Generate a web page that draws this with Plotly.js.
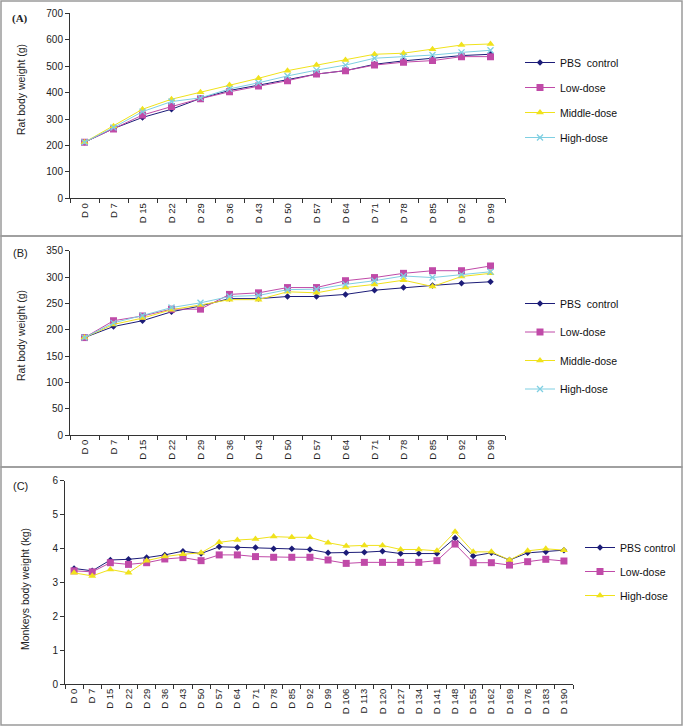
<!DOCTYPE html>
<html>
<head>
<meta charset="utf-8">
<script src="https://cdn.plot.ly/plotly-3.0.1.min.js"></script>
<style>
  body { margin: 0; background: #fff; }
  #plotArea { width: 684px; height: 727px; }
</style>
</head>
<body>
<div id="plotArea"></div>
<script>
// rat study days (panels A and B)
var ratDays = ["D 0", "D 7", "D 15", "D 22", "D 29", "D 36", "D 43", "D 50", "D 57", "D 64", "D 71", "D 78", "D 85", "D 92", "D 99"];

// panel A
var pbsA    = [212, 264, 306, 337, 378, 408, 428, 448, 470, 483, 507, 520, 530, 540, 545];
var lowA    = [212, 262, 315, 347, 377, 403, 425, 445, 470, 483, 504, 515, 521, 536, 536];
var middleA = [212, 273, 337, 375, 401, 429, 454, 483, 504, 523, 545, 549, 564, 580, 584];
var highA   = [212, 268, 328, 366, 380, 414, 437, 463, 485, 504, 530, 536, 542, 552, 560];

// panel B
var pbsB    = [185, 206, 217, 234, 245, 259, 259, 263, 263, 267, 275, 280, 284, 288, 291];
var lowB    = [185, 217, 226, 239, 239, 267, 270, 280, 280, 293, 299, 307, 312, 312, 321];
var middleB = [185, 210, 222, 238, 247, 257, 257, 272, 270, 280, 286, 294, 282, 301, 307];
var highB   = [185, 213, 227, 242, 251, 263, 265, 276, 277, 286, 293, 302, 299, 305, 310];

// monkey study days (panel C)
var monkeyDays = ["D 0", "D 7", "D 15", "D 22", "D 29", "D 36", "D 43", "D 50", "D 57", "D 64", "D 71", "D 78", "D 85", "D 92",
    "D 99", "D 106", "D 113", "D 120", "D 127", "D 134", "D 141", "D 148", "D 155", "D 162", "D 169", "D 176", "D 183", "D 190"];
var pbsC  = [3.41, 3.34, 3.66, 3.68, 3.73, 3.81, 3.92, 3.85, 4.05, 4.03, 4.03, 3.99, 3.99, 3.97,
    3.87, 3.87, 3.89, 3.92, 3.85, 3.85, 3.85, 4.31, 3.78, 3.87, 3.66, 3.87, 3.90, 3.95];
var lowC  = [3.34, 3.31, 3.58, 3.53, 3.58, 3.69, 3.73, 3.64, 3.81, 3.81, 3.76, 3.74, 3.74, 3.74,
    3.66, 3.56, 3.59, 3.59, 3.59, 3.59, 3.64, 4.13, 3.58, 3.58, 3.51, 3.61, 3.68, 3.63];
var highC = [3.28, 3.19, 3.38, 3.28, 3.64, 3.76, 3.83, 3.87, 4.18, 4.25, 4.28, 4.35, 4.33, 4.33,
    4.17, 4.07, 4.09, 4.09, 3.97, 3.97, 3.93, 4.49, 3.90, 3.90, 3.66, 3.93, 3.99, 3.95];

var navy = "#1c1c78";
var pink = "#c04aa8";
var yellow = "#f0e21c";
var cyan = "#7fcfe2";

var W = 684, H = 727;
function px(x) { return x / W; }
function py(y) { return 1 - y / H; }

function series(name, x, y, color, symbol, size, n, legendName) {
    var t = {
        x: x, y: y, name: name, type: "scatter", mode: "lines+markers",
        line: {color: color, width: 1},
        marker: {color: color, symbol: symbol, size: size},
        xaxis: n == 1 ? "x" : "x" + n,
        yaxis: n == 1 ? "y" : "y" + n,
        legend: legendName,
        legendgroup: legendName + name
    };
    if (symbol == "x-thin") {
        t.marker.line = {color: color, width: 1.3};
    }
    return t;
}

var data = [
    series("PBS  control", ratDays, pbsA, navy, "diamond", 5, 1, "legend"),
    series("Low-dose", ratDays, lowA, pink, "square", 7, 1, "legend"),
    series("Middle-dose", ratDays, middleA, yellow, "triangle-up", 7, 1, "legend"),
    series("High-dose", ratDays, highA, cyan, "x-thin", 6, 1, "legend"),

    series("PBS  control", ratDays, pbsB, navy, "diamond", 5, 2, "legend2"),
    series("Low-dose", ratDays, lowB, pink, "square", 7, 2, "legend2"),
    series("Middle-dose", ratDays, middleB, yellow, "triangle-up", 7, 2, "legend2"),
    series("High-dose", ratDays, highB, cyan, "x-thin", 6, 2, "legend2"),

    series("PBS control", monkeyDays, pbsC, navy, "diamond", 5, 3, "legend3"),
    series("Low-dose", monkeyDays, lowC, pink, "square", 7, 3, "legend3"),
    series("High-dose", monkeyDays, highC, yellow, "triangle-up", 7, 3, "legend3")
];

var tickFont = {family: "Liberation Sans, Arial", size: 10, color: "#222"};

function xAxis(domain, yanchor, n) {
    return {
        domain: domain, anchor: yanchor, type: "category",
        range: [-0.5, n - 0.5],
        showline: true, linecolor: "#333", linewidth: 1,
        ticks: "outside", tickson: "boundaries", ticklen: 4, tickcolor: "#333",
        tickangle: -90, tickfont: {family: "Liberation Sans, Arial", size: 9.5, color: "#222"},
        showgrid: false, zeroline: false, fixedrange: true
    };
}
function yAxis(domain, xanchor, max, step) {
    return {
        domain: domain, anchor: xanchor,
        range: [0, max], dtick: step, tick0: 0,
        showline: true, linecolor: "#333", linewidth: 1,
        ticks: "outside", ticklen: 4, tickcolor: "#333",
        tickfont: tickFont,
        showgrid: false, zeroline: false, fixedrange: true
    };
}

var legendFont = {family: "Liberation Sans, Arial", size: 10.5, color: "#111"};

function label(text, x, y, angle, font) {
    return {text: text, xref: "paper", yref: "paper", x: px(x), y: py(y),
        xanchor: "center", yanchor: "middle", textangle: angle, showarrow: false, font: font};
}
var titleFont = {family: "Liberation Sans, Arial", size: 10.5, color: "#222"};

var layout = {
    width: W, height: H,
    margin: {l: 0, r: 0, t: 0, b: 0},
    paper_bgcolor: "#fff", plot_bgcolor: "#fff",
    font: {family: "Liberation Sans, Arial", color: "#222"},
    xaxis: xAxis([px(70), px(505)], "y", ratDays.length),
    yaxis: yAxis([py(198.3), py(13.3)], "x", 700, 100),
    xaxis2: xAxis([px(70), px(505)], "y2", ratDays.length),
    yaxis2: yAxis([py(435), py(250.7)], "x2", 350, 50),
    xaxis3: xAxis([px(65), px(573)], "y3", monkeyDays.length),
    yaxis3: yAxis([py(684), py(480.7)], "x3", 6, 1),
    legend: {x: px(520), y: py(48), xanchor: "left", yanchor: "top", font: legendFont,
        bgcolor: "rgba(0,0,0,0)", traceorder: "grouped", tracegroupgap: 6},
    legend2: {x: px(520), y: py(289), xanchor: "left", yanchor: "top", font: legendFont,
        bgcolor: "rgba(0,0,0,0)", traceorder: "grouped", tracegroupgap: 9.5},
    legend3: {x: px(580), y: py(533), xanchor: "left", yanchor: "top", font: legendFont,
        bgcolor: "rgba(0,0,0,0)", traceorder: "grouped", tracegroupgap: 5},
    shapes: [
        {type: "rect", xref: "paper", yref: "paper", x0: px(1), x1: px(682), y0: py(236), y1: py(1),
            line: {color: "#9a9a9a", width: 1.5}},
        {type: "rect", xref: "paper", yref: "paper", x0: px(1), x1: px(682), y0: py(467), y1: py(236),
            line: {color: "#9a9a9a", width: 1.5}},
        {type: "rect", xref: "paper", yref: "paper", x0: px(1), x1: px(682), y0: py(725), y1: py(467),
            line: {color: "#9a9a9a", width: 1.5}}
    ],
    annotations: [
        label("<b>(A)</b>", 20, 18, 0, {family: "Liberation Serif, Times New Roman", size: 11, color: "#222"}),
        label("(B)", 20, 253, 0, {family: "Liberation Sans, Arial", size: 11, color: "#222"}),
        label("(C)", 20, 486, 0, {family: "Liberation Sans, Arial", size: 11, color: "#222"}),
        label("Rat body weight (g)", 21, 90, -90, titleFont),
        label("Rat body weight (g)", 21, 336, -90, titleFont),
        label("Monkeys body weight (kg)", 25, 589, -90, titleFont)
    ]
};

Plotly.newPlot("plotArea", data, layout, {staticPlot: true});
</script>
</body>
</html>
